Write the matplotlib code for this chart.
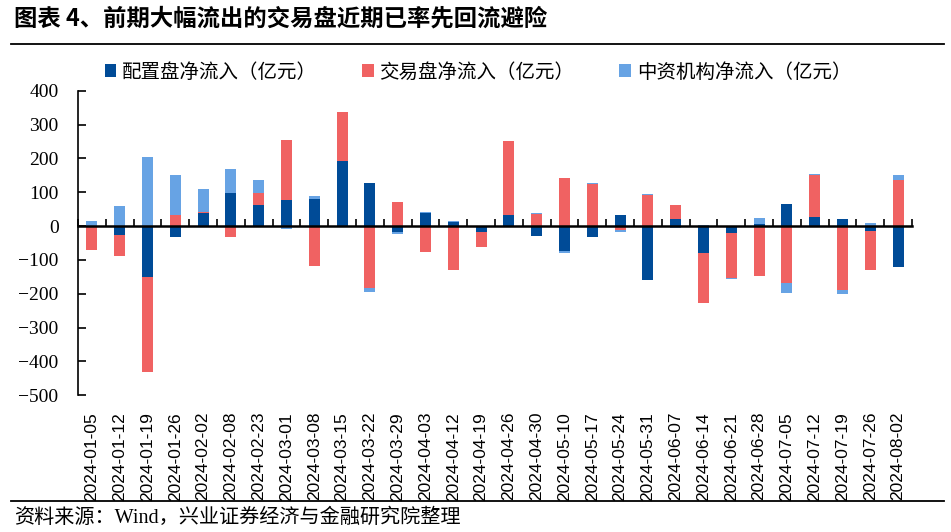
import matplotlib
matplotlib.use("Agg")
import matplotlib.pyplot as plt
import numpy as np
from matplotlib.lines import Line2D

dates = ["2024-01-05", "2024-01-12", "2024-01-19", "2024-01-26", "2024-02-02",
         "2024-02-08", "2024-02-23", "2024-03-01", "2024-03-08", "2024-03-15",
         "2024-03-22", "2024-03-29", "2024-04-03", "2024-04-12", "2024-04-19",
         "2024-04-26", "2024-04-30", "2024-05-10", "2024-05-17", "2024-05-24",
         "2024-05-31", "2024-06-07", "2024-06-14", "2024-06-21", "2024-06-28",
         "2024-07-05", "2024-07-12", "2024-07-19", "2024-07-26", "2024-08-02"]

# 配置盘净流入（亿元）
peizhi = [0, -26, -150, -32, 38, 99, 63, 78, 81, 191,
          126, -17, 40, 13, -17, 34, -29, -73, -32, 34,
          -159, 22, -79, -20, 7, 66, 28, 22, -14, -121]
# 交易盘净流入（亿元）
jiaoyi = [-70, -62, -280, 34, 3, -32, 36, 175, -117, 146,
          -183, 72, -76, -130, -44, 216, 37, 141, 123, -11,
          93, 41, -149, -133, -148, -168, 122, -189, -116, 136]
# 中资机构净流入（亿元）
zhongzi = [16, 60, 203, 118, 70, 71, 36, -8, 9, -4,
           -12, -6, 3, 3, 0, -4, 3, -6, 3, -6,
           3, -5, 4, -3, 18, -30, 3, -12, 10, 14]

series = [("配置盘净流入（亿元）", peizhi, "#004B97"),
          ("交易盘净流入（亿元）", jiaoyi, "#F06262"),
          ("中资机构净流入（亿元）", zhongzi, "#67A3E4")]

cjk = ["Noto Sans CJK SC", "DejaVu Sans"]
serif_cjk = ["Liberation Serif", "Noto Sans CJK SC"]

fig = plt.figure(figsize=(9.51, 5.32), dpi=100)
ax = fig.add_axes([0.082, 0.257, 0.877, 0.5725])

x = np.arange(len(dates))
pos_bottom = np.zeros(len(dates))
neg_bottom = np.zeros(len(dates))
handles = []
for label, vals, color in series:
    v = np.array(vals, dtype=float)
    bottom = np.where(v >= 0, pos_bottom, neg_bottom)
    h = ax.bar(x, v, width=0.4, bottom=bottom, color=color, label=label, zorder=2)
    handles.append(h)
    pos_bottom += np.where(v > 0, v, 0)
    neg_bottom += np.where(v < 0, v, 0)

ax.set_xlim(-0.5, len(dates) - 0.5)
ax.set_ylim(-500, 400)
ax.set_yticks(np.arange(-500, 401, 100))
ax.tick_params(axis="y", direction="in", length=6, width=1.2, labelsize=14, pad=14)
for t in ax.get_yticklabels():
    t.set_family("Liberation Serif")

for s in ["top", "right"]:
    ax.spines[s].set_visible(False)
ax.spines["left"].set_linewidth(1.2)
ax.spines["bottom"].set_position(("data", 0))
ax.spines["bottom"].set_linewidth(1.8)
ax.spines["bottom"].set_zorder(3)
ax.set_xticks(np.arange(len(dates) + 1) - 0.5)
ax.tick_params(axis="x", direction="in", length=5, width=1.2, labelbottom=False)

sec = ax.secondary_xaxis(0.0)
sec.set_xticks(x)
sec.set_xticklabels(dates, rotation=90, family="Liberation Sans", fontsize=12.5)
sec.tick_params(length=0, pad=12)
sec.spines["bottom"].set_visible(False)

fig.legend(handles=handles, loc="center", bbox_to_anchor=(478 / 951, 1 - 72 / 532),
           ncol=3, frameon=False, prop={"family": cjk, "size": 14},
           handlelength=0.6, handleheight=0.6, handletextpad=0.3, columnspacing=2.3)

fig.text(14 / 951, 1 - 19 / 532, "图表 4、前期大幅流出的交易盘近期已率先回流避险",
         family=cjk, fontsize=16.8, fontweight="bold", va="center", ha="left")
fig.text(14 / 951, 1 - 518 / 532, "资料来源：Wind，兴业证券经济与金融研究院整理",
         family=serif_cjk, fontsize=14.5, va="center", ha="left")

fig.add_artist(Line2D([11 / 951, 944 / 951], [1 - 44 / 532, 1 - 44 / 532],
                      color="black", lw=1.3, transform=fig.transFigure))
fig.add_artist(Line2D([11 / 951, 944 / 951], [1 - 501 / 532, 1 - 501 / 532],
                      color="black", lw=1.3, transform=fig.transFigure))

fig.savefig("out.png", dpi=100)
